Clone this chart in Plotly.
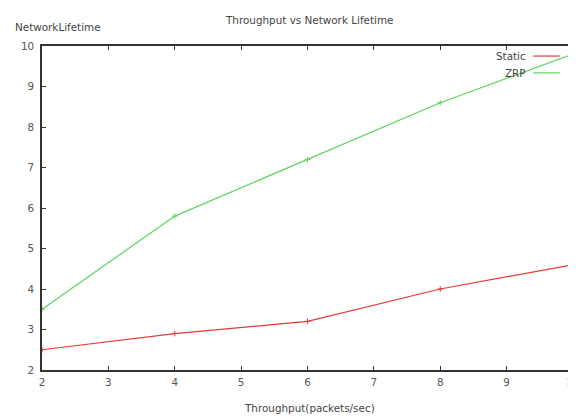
import plotly.graph_objects as go

x_vals = [2, 4, 6, 8, 10]
static_vals = [2.5, 2.9, 3.2, 4.0, 4.6]
zrp_vals = [3.5, 5.8, 7.2, 8.6, 9.8]
series_names = ["Static", "ZRP"]
series_colors = ["#e8383a", "#5cd65c"]
x_ticks = [2, 3, 4, 5, 6, 7, 8, 9, 10]
y_ticks = [2, 3, 4, 5, 6, 7, 8, 9, 10]

FONT = "DejaVu Sans"
FS = 10.4
fig = go.Figure()
for name, vals, col in zip(series_names, [static_vals, zrp_vals], series_colors):
    fig.add_trace(go.Scatter(
        x=x_vals, y=vals, mode="lines+markers", name=name,
        line=dict(color=col, width=1.2),
        marker=dict(symbol="cross-thin", size=4, line=dict(color=col, width=1)),
        showlegend=False))

# gnuplot-style key: text on the left, sample on the right
key_y = [0.969, 0.917]
for name, col, ky in zip(series_names, series_colors, key_y):
    fig.add_annotation(xref="paper", yref="paper", x=0.915, y=ky, text=name,
                       showarrow=False, xanchor="right", yanchor="middle",
                       font=dict(family=FONT, size=FS, color="#444"))
    fig.add_shape(type="line", xref="paper", yref="paper", x0=0.925, x1=0.975,
                  y0=ky, y1=ky, line=dict(color=col, width=1.2))

fig.add_annotation(xref="paper", yref="paper", x=0.503, y=1.080,
                   text="Throughput vs Network Lifetime", showarrow=False,
                   xanchor="center", yanchor="middle",
                   font=dict(family=FONT, size=FS, color="#444"))
fig.add_annotation(xref="paper", yref="paper", x=-0.055, y=1.058,
                   text="NetworkLifetime", showarrow=False,
                   xanchor="left", yanchor="middle",
                   font=dict(family=FONT, size=FS, color="#444"))
fig.add_annotation(xref="paper", yref="paper", x=0.503, y=-0.117,
                   text="Throughput(packets/sec)", showarrow=False,
                   xanchor="center", yanchor="middle",
                   font=dict(family=FONT, size=FS, color="#444"))

axis_common = dict(showgrid=False, zeroline=False, showline=True, linecolor="#333",
                   linewidth=1.5, mirror="ticks", ticks="inside", ticklen=4,
                   tickcolor="#333", tickwidth=1.2, ticklabeloverflow="allow",
                   automargin=False,
                   tickfont=dict(family=FONT, size=FS, color="#555"))
fig.update_xaxes(range=[2, 10], tickvals=x_ticks, ticklabelstandoff=2, **axis_common)
fig.update_yaxes(range=[2, 10], tickvals=y_ticks, ticklabelstandoff=4, **axis_common)

# page body has an 8px margin, so the figure is 8px smaller and the offsets shifted
fig.update_layout(width=568, height=412, plot_bgcolor="white", paper_bgcolor="white",
                  margin=dict(l=34, r=3, t=38, b=50), showlegend=False)

fig.write_html("out.html")
